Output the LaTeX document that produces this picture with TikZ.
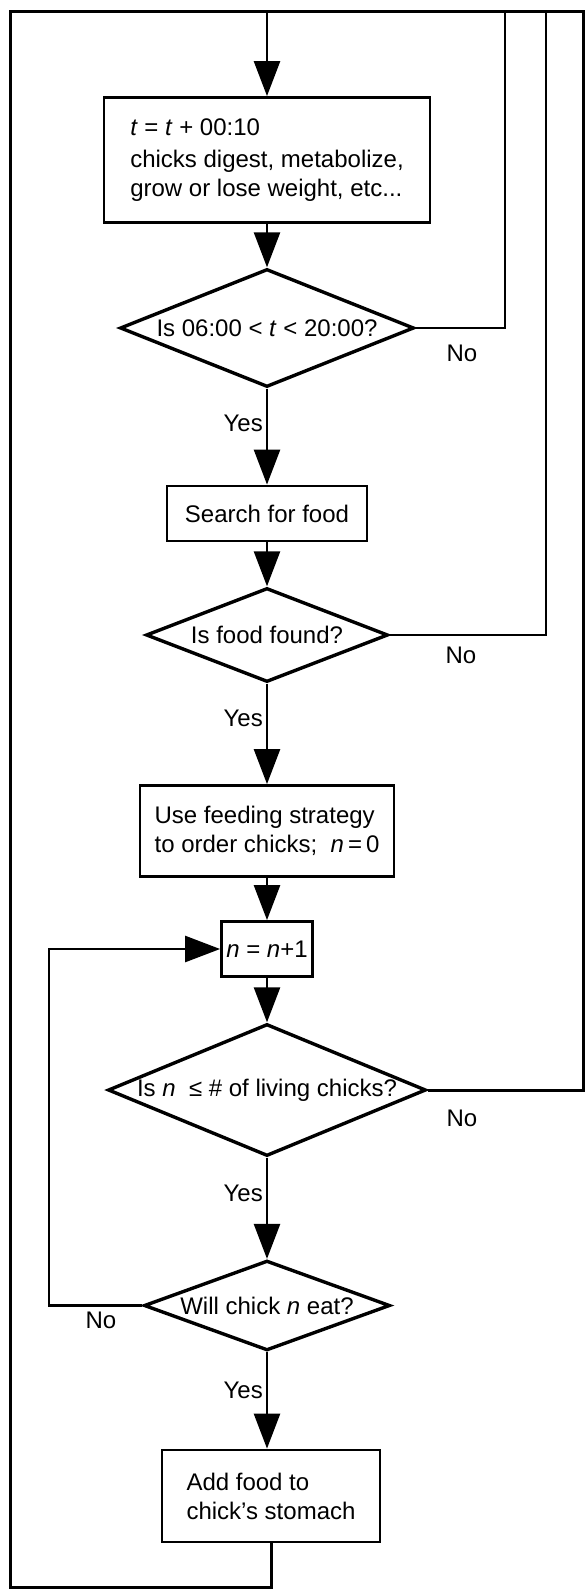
\documentclass[tikz,border=0pt]{standalone}
\usepackage{fontspec}
\setmainfont{Liberation Sans}
\usetikzlibrary{shapes.geometric,arrows.meta}
\begin{document}
\begin{tikzpicture}[x=1pt,y=-1pt,
  font=\fontsize{24}{29}\selectfont,
  procbox/.style={draw, line width=2.8pt, inner sep=0pt, align=left},
  decide/.style={draw, diamond, line width=3.4pt, inner sep=0pt, aspect=2.4},
  flow/.style={line width=2.6pt},
  frame/.style={line width=3pt},
  arr/.style={flow, -{Triangle[length=35pt,width=26pt]}},
  lbl/.style={inner sep=0pt}
]
\useasboundingbox (0,0) rectangle (584,1589);
\fill[white] (0,0) rectangle (584,1589);

% nodes
\node[procbox, minimum width=326pt, minimum height=125pt] (b1) at (267,160)
  {\textit{t} = \textit{t} + 00:10\\[3pt]chicks digest, metabolize,\\grow or lose weight, etc...};
\node[decide, minimum width=294pt, minimum height=118pt] (d1) at (267,328)
  {Is 06:00 < \textit{t} < 20:00?};
\node[procbox, minimum width=200pt, minimum height=55pt] (b2) at (267,513.5)
  {Search for food};
\node[decide, minimum width=242pt, minimum height=94pt] (d2) at (267,635)
  {Is food found?};
\node[procbox, minimum width=254pt, minimum height=91pt] (b3) at (267,831)
  {Use feeding strategy\\to order chicks;\ \ \textit{n}\,=\,0};
\node[procbox, minimum width=91pt, minimum height=55pt] (b4) at (267,949)
  {\textit{n} = \textit{n}+1};
\node[decide, minimum width=318pt, minimum height=132pt] (d3) at (267,1090)
  {Is \textit{n} \ ≤ \# of living chicks?};
\node[decide, minimum width=246pt, minimum height=88pt] (d4) at (267,1305.5)
  {Will chick \textit{n} eat?};
\node[procbox, minimum width=218pt, minimum height=92pt] (b5) at (271,1496)
  {Add food to\\chick’s stomach};

% helper coordinates
\coordinate (topL) at (10,11.7);
\coordinate (topR) at (583,11.7);
\coordinate (botL) at (10,1587.3);
\coordinate (main) at (267,0);
\coordinate (n1) at (505,11.7);
\coordinate (n2) at (546,11.7);
\coordinate (lp) at (49,0);

% outer loop
\draw[frame] (b5.south) -- (b5.south |- botL) -- (botL) -- (topL) -- (topR) |- (d3.east);
\draw[arr] (main |- topL) -- (b1.north);

% main flow
\draw[arr] (b1.south) -- (d1.north);
\draw[arr] (d1.south) -- (b2.north);
\draw[arr] (b2.south) -- (d2.north);
\draw[arr] (d2.south) -- (b3.north);
\draw[arr] (b3.south) -- (b4.north);
\draw[arr] (b4.south) -- (d3.north);
\draw[arr] (d3.south) -- (d4.north);
\draw[arr] (d4.south) -- (d4.south |- b5.north);

% No branches
\draw[flow] (d1.east) -| (n1);
\draw[flow] (d2.east) -| (n2);
\draw[arr] (d4.west) -- (d4.west -| lp) |- (b4.west);

% labels
\node[lbl, anchor=east] (y1) at (263,423) {Yes};
\node[lbl, anchor=east] (y2) at (263,718) {Yes};
\node[lbl, anchor=east] (y3) at (263,1193) {Yes};
\node[lbl, anchor=east] (y4) at (263,1390) {Yes};
\node[lbl] (no1) at (462,353) {No};
\node[lbl] (no2) at (461,655) {No};
\node[lbl] (no3) at (462,1118) {No};
\node[lbl] (no4) at (101,1320) {No};
\end{tikzpicture}
\end{document}
